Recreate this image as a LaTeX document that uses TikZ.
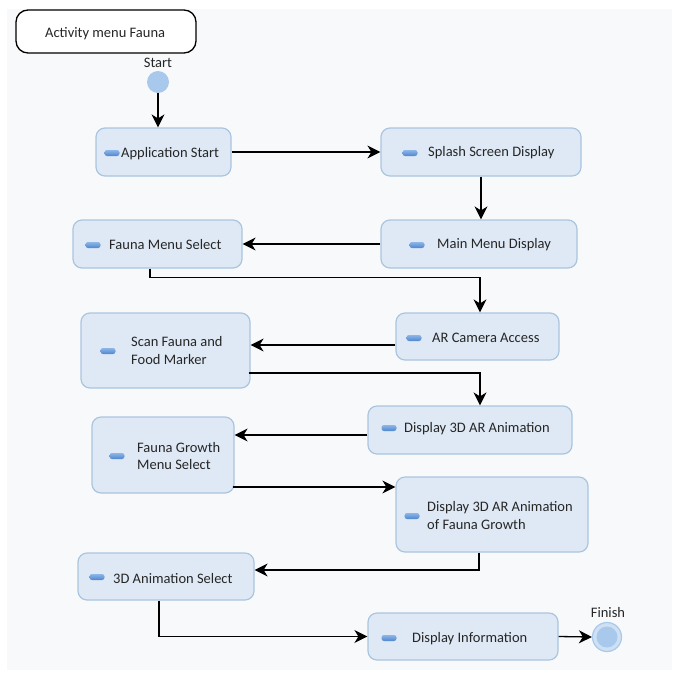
\documentclass[tikz,border=0pt]{standalone}
\usepackage{fontspec}
\setmainfont{Carlito}
\usetikzlibrary{arrows.meta}
\definecolor{bgc}{HTML}{F8F9FB}
\definecolor{boxfill}{HTML}{DFE9F5}
\definecolor{boxline}{HTML}{AAC5DF}
\definecolor{dotc}{HTML}{A9C9EC}
\definecolor{ringc}{HTML}{CFE0F3}
\definecolor{icontop}{HTML}{8DB6E8}
\definecolor{iconbot}{HTML}{4F86CE}
\definecolor{txt}{HTML}{262626}
\tikzset{
  x=1pt, y=-1pt,
  actbox/.style={draw=boxline, fill=boxfill, line width=1.2pt, rounded corners=9pt, inner sep=0pt},
  lbl/.style={font=\fontsize{14.5}{17.5}\selectfont, text=txt, inner sep=0pt, anchor=west, align=left},
  icon/.style={rounded corners=2.5pt, top color=icontop, bottom color=iconbot, draw=none, minimum width=15pt, minimum height=6pt, inner sep=0pt},
  arr/.style={line width=1.3pt, -{Stealth[length=13pt,width=13pt,inset=4pt]}},
}
\begin{document}
\begin{tikzpicture}
\useasboundingbox (0,0) rectangle (676,675);
\fill[bgc] (7,9) rectangle (672,670);
% title
\node[draw=black, fill=white, line width=1.3pt, rounded corners=12pt, minimum width=180pt, minimum height=43pt, inner sep=0pt] (title) at (106,31.5) {};
\node[lbl] (titlet) at (45,34) {Activity menu Fauna};
% start
\node[circle, fill=dotc, minimum size=22pt, inner sep=0pt] (start) at (158,82) {};
\node[lbl, anchor=center] (startl) at (158,63) {Start};
% boxes
\node[actbox, minimum width=135pt, minimum height=48pt] (app) at (163.5,152) {};
\node[actbox, minimum width=200pt, minimum height=48pt] (splash) at (481,152) {};
\node[actbox, minimum width=196pt, minimum height=48pt] (mainm) at (479,244) {};
\node[actbox, minimum width=169pt, minimum height=48pt] (faunam) at (157.5,244) {};
\node[actbox, minimum width=163pt, minimum height=47pt] (arcam) at (477.5,336.5) {};
\node[actbox, minimum width=169pt, minimum height=75pt] (scan) at (165.5,350.5) {};
\node[actbox, minimum width=204pt, minimum height=48pt] (disp3d) at (470,430) {};
\node[actbox, minimum width=142pt, minimum height=76pt] (growth) at (163,455) {};
\node[actbox, minimum width=192pt, minimum height=75pt] (dispgrowth) at (492,514.5) {};
\node[actbox, minimum width=176pt, minimum height=47pt] (anim) at (166,576.5) {};
\node[actbox, minimum width=190pt, minimum height=47pt] (info) at (463,636.5) {};
% icons
\node[icon] (i1) at (112,153) {};
\node[icon] (i2) at (410,153) {};
\node[icon] (i3) at (417,245) {};
\node[icon] (i4) at (93,245) {};
\node[icon] (i5) at (414,338) {};
\node[icon] (i6) at (108,351) {};
\node[icon] (i7) at (389,428) {};
\node[icon] (i8) at (117,456) {};
\node[icon] (i9) at (412,516) {};
\node[icon] (i10) at (97,577) {};
\node[icon] (i11) at (389,638) {};
% labels
\node[lbl] (t1) at (121,153.5) {Application Start};
\node[lbl] (t2) at (428,152.5) {Splash Screen Display};
\node[lbl] (t3) at (437,244.5) {Main Menu Display};
\node[lbl] (t4) at (109,244.5) {Fauna Menu Select};
\node[lbl] (t5) at (432,337.5) {AR Camera Access};
\node[lbl] (t6) at (131,350.5) {Scan Fauna and\\Food Marker};
\node[lbl] (t7) at (404,428.5) {Display 3D AR Animation};
\node[lbl] (t8) at (137,456) {Fauna Growth\\Menu Select};
\node[lbl] (t9) at (427,515.5) {Display 3D AR Animation\\of Fauna Growth};
\node[lbl] (t10) at (113,578.5) {3D Animation Select};
\node[lbl] (t11) at (412,638.5) {Display Information};
% finish
\node[circle, draw=dotc, fill=ringc, line width=1.2pt, minimum size=29pt, inner sep=0pt] (finish) at (607,637) {};
\node[circle, fill=dotc, minimum size=21pt, inner sep=0pt] (finishin) at (607,637) {};
\node[lbl, anchor=center] (finishl) at (608,613) {Finish};
% connectors
\draw[arr] (start) -- (start |- app.north);
\draw[arr] (app.east) -- (app.east -| splash.west);
\draw[arr] (splash.south) -- (mainm.north -| splash.south);
\draw[arr] (mainm.west) -- (faunam.east);
\draw[arr] ([xshift=-7.5pt]faunam.south) -- ++(0,9) -| ([xshift=2.5pt]arcam.north);
\draw[arr] ([yshift=-8.5pt]arcam.west) -- ([yshift=-8.5pt]arcam.west -| scan.east);
\draw[arr] ([yshift=-22.5pt,xshift=-2pt]scan.east) -| ([xshift=10pt]disp3d.north);
\draw[arr] ([yshift=-5pt]disp3d.west) -- ([yshift=-5pt]disp3d.west -| growth.east);
\draw[arr] ([yshift=-32pt,xshift=-2pt]growth.east) -- ([yshift=-32pt]growth.east -| dispgrowth.west);
\draw[arr] ([xshift=-13pt]dispgrowth.south) |- ([yshift=6.5pt]anim.east);
\draw[arr] ([xshift=-7pt]anim.south) |- (info.west);
\draw[arr] (info.east) -- (finish.west);
\end{tikzpicture}
\end{document}
